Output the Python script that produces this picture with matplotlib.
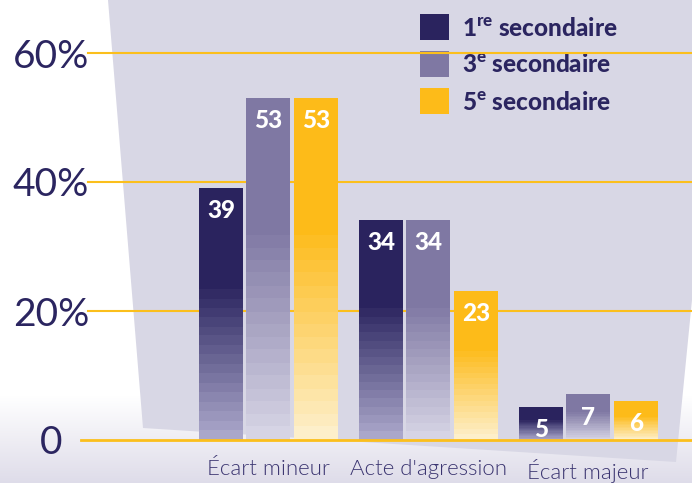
import numpy as np
import matplotlib.pyplot as plt
from matplotlib.colors import to_rgb
from matplotlib.patches import Polygon, Rectangle

plt.rcParams['font.family'] = ['Lato', 'DejaVu Sans']
plt.rcParams['mathtext.fontset'] = 'custom'
plt.rcParams['mathtext.rm'] = 'Lato:black'
plt.rcParams['mathtext.bf'] = 'Lato:black'

# data
categories = ["Écart mineur", "Acte d'agression", "Écart majeur"]
sec1 = [39, 34, 5]
sec3 = [53, 34, 7]
sec5 = [53, 23, 6]
series = [sec1, sec3, sec5]
names = [r"1$^{\mathrm{re}}$ secondaire", r"3$^{\mathrm{e}}$ secondaire", r"5$^{\mathrm{e}}$ secondaire"]
yticks = [0, 20, 40, 60]
ylabels = ["0", "20%", "40%", "60%"]

navy = '#2b2560'
top_colors = ['#2a235e', '#7f78a3', '#fdbb19']
bot_colors = ['#aaa7ca', '#d6d4e5', '#fdefca']
gold_line = '#fbbf1c'

W, H = 692, 483
fig = plt.figure(figsize=(W / 100, H / 100), dpi=100)

# background decoration in pixel coords
bg = fig.add_axes([0, 0, 1, 1], zorder=0)
bg.set_xlim(0, W)
bg.set_ylim(H, 0)
bg.axis('off')
g = np.ones((H, 1, 3))
c_end = np.array(to_rgb('#dedce9'))
yy = np.arange(H)
t = np.clip((yy - 395) / (H - 395), 0, 1)
g[:, 0, :] = (1 - t)[:, None] * 1.0 + t[:, None] * c_end
bg.imshow(g, extent=(0, W, H, 0), aspect='auto')
bg.add_patch(Polygon([(108, 0), (W, 0), (W, 300), (676, 462), (143, 428)],
                     closed=True, facecolor='#d8d7e5', edgecolor='none'))

# legend
for i, name in enumerate(names):
    y0 = 14 + 37 * i
    bg.add_patch(Rectangle((420, y0), 29, 26, facecolor=top_colors[i], edgecolor='none'))
    bg.text(462, y0 + 14, name, fontsize=17.5, fontweight=900, color=navy,
            ha='left', va='center')

# main axes
ax = fig.add_axes([81 / W, 43 / H, 611 / W, 440 / H], zorder=1)
ax.set_facecolor('none')
ymax = 440 / 387 * 60
for s in ax.spines.values():
    s.set_visible(False)

for v in yticks[1:]:
    ax.axhline(v, xmin=7 / 611, color=gold_line, lw=1.5, zorder=1)
ax.axhline(0, color=gold_line, lw=2, zorder=3, clip_on=False)

x = np.arange(len(categories))
width = 0.275
offsets = [-0.294, 0, 0.3]
nsteps = 16
for k, vals in enumerate(series):
    bars = ax.bar(x + offsets[k], vals, width, color='none', zorder=2)
    ct = np.array(to_rgb(top_colors[k]))
    cb = np.array(to_rgb(bot_colors[k]))
    for rect, v in zip(bars, vals):
        x0 = rect.get_x()
        x1 = x0 + rect.get_width()
        f = np.linspace(0, 1, 200)  # 0 bottom -> 1 top
        w = np.clip(f / 0.6, 0, 1)
        w = np.floor(w * nsteps) / nsteps
        img = (1 - w)[:, None] * cb + w[:, None] * ct
        ax.imshow(img[::-1, None, :], extent=(x0, x1, 0, v), aspect='auto',
                  zorder=2, interpolation='nearest')
        ax.annotate(str(v), (x0 + rect.get_width() / 2, v), xytext=(0, -16),
                    textcoords='offset points', ha='center', va='center',
                    color='white', fontweight=900, fontsize=17.5, zorder=4)

ax.set_xlim(-(268 - 81) / 160, (W - 268) / 160)
ax.set_ylim(0, ymax)
ax.set_xticks(x, categories)
ax.set_yticks(yticks, ylabels)
ax.tick_params(axis='x', length=0, pad=13.5, labelsize=16, labelcolor='#3a3470')
ax.tick_params(axis='y', length=0, pad=21.6, labelsize=28, labelcolor=navy)
for lab in ax.get_xticklabels():
    lab.set_fontweight(300)
for lab in ax.get_yticklabels():
    lab.set_ha('center')
    lab.set_fontweight(400)

fig.savefig('out.png', dpi=100)
